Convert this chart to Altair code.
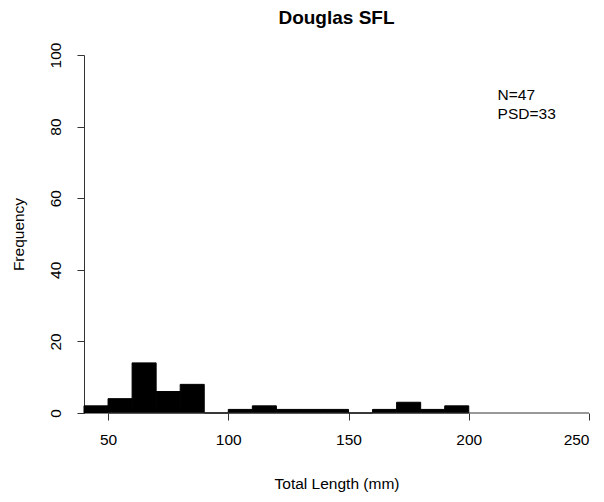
import altair as alt
import pandas as pd

# Histogram of total length (mm), 10-mm bins
bin_start = [40, 50, 60, 70, 80, 90, 100, 110, 120, 130, 140, 150, 160, 170, 180, 190]
counts = [2, 4, 14, 6, 8, 0, 1, 2, 1, 1, 1, 0, 1, 3, 1, 2]
bin_width = 10

x_ticks = [50, 100, 150, 200, 250]
y_ticks = [0, 20, 40, 60, 80, 100]

note_lines = ["N=47", "PSD=33"]
note_x = [212, 212]
note_y = [90.8, 85.4]

TITLE = "Douglas SFL"
FONT = "Liberation Sans"
FS = 15.5

bars = pd.DataFrame({
    "start": bin_start,
    "end": [s + bin_width for s in bin_start],
    "count": counts,
    "zero": [0] * len(bin_start),
})
axis_line = pd.DataFrame({"x": [x_ticks[0]], "x2": [x_ticks[-1]], "y": [0]})
notes = pd.DataFrame({"label": note_lines, "x": note_x, "y": note_y})
title_df = pd.DataFrame({"label": [TITLE]})

xscale = alt.Scale(domain=[40, 250], nice=False, zero=False)
yscale = alt.Scale(domain=[0, 100], nice=False)

hist = alt.Chart(bars).mark_rect(color="black", stroke="black", strokeWidth=1).encode(
    x=alt.X("start:Q", scale=xscale,
            axis=alt.Axis(values=x_ticks, domain=False, grid=False, tickSize=7,
                          tickColor="#333333", labelFont=FONT, labelFontSize=FS,
                          labelColor="black", labelPadding=12,
                          title="Total Length (mm)", titleFont=FONT, titleFontSize=FS,
                          titleFontWeight="normal", titleColor="black",
                          titleY=70, titleBaseline="middle")),
    x2="end:Q",
    y=alt.Y("count:Q", scale=yscale,
            axis=alt.Axis(values=y_ticks, grid=False, tickSize=7, domainColor="#333333",
                          tickColor="#333333", labelAngle=270, labelAlign="center",
                          labelBaseline="bottom", labelFont=FONT, labelFontSize=FS,
                          labelColor="black", labelPadding=14,
                          title="Frequency", titleFont=FONT, titleFontSize=FS,
                          titleFontWeight="normal", titleColor="black",
                          titleAngle=270, titleX=-66, titleY=179,
                          titleAlign="center", titleBaseline="middle")),
    y2="zero:Q",
)

xline = alt.Chart(axis_line).mark_rule(color="#333333", strokeWidth=1).encode(
    x="x:Q", x2="x2:Q", y="y:Q"
)

text = alt.Chart(notes).mark_text(
    align="left", baseline="top", font=FONT, fontSize=FS, color="black"
).encode(x="x:Q", y="y:Q", text="label:N")

title_mark = alt.Chart(title_df).mark_text(
    align="center", baseline="alphabetic", font=FONT, fontSize=19,
    fontWeight="bold", color="black"
).encode(x=alt.value(252.5), y=alt.value(-31), text="label:N")

chart = alt.layer(hist, xline, text, title_mark).properties(
    width=505,
    height=358,
    autosize=alt.AutoSizeParams(type="none"),
    padding={"left": 84, "top": 55, "right": 15, "bottom": 89},
).configure(background="white").configure_view(stroke=None)

chart.save("out.html", embed_options={"renderer": "svg", "actions": False})
